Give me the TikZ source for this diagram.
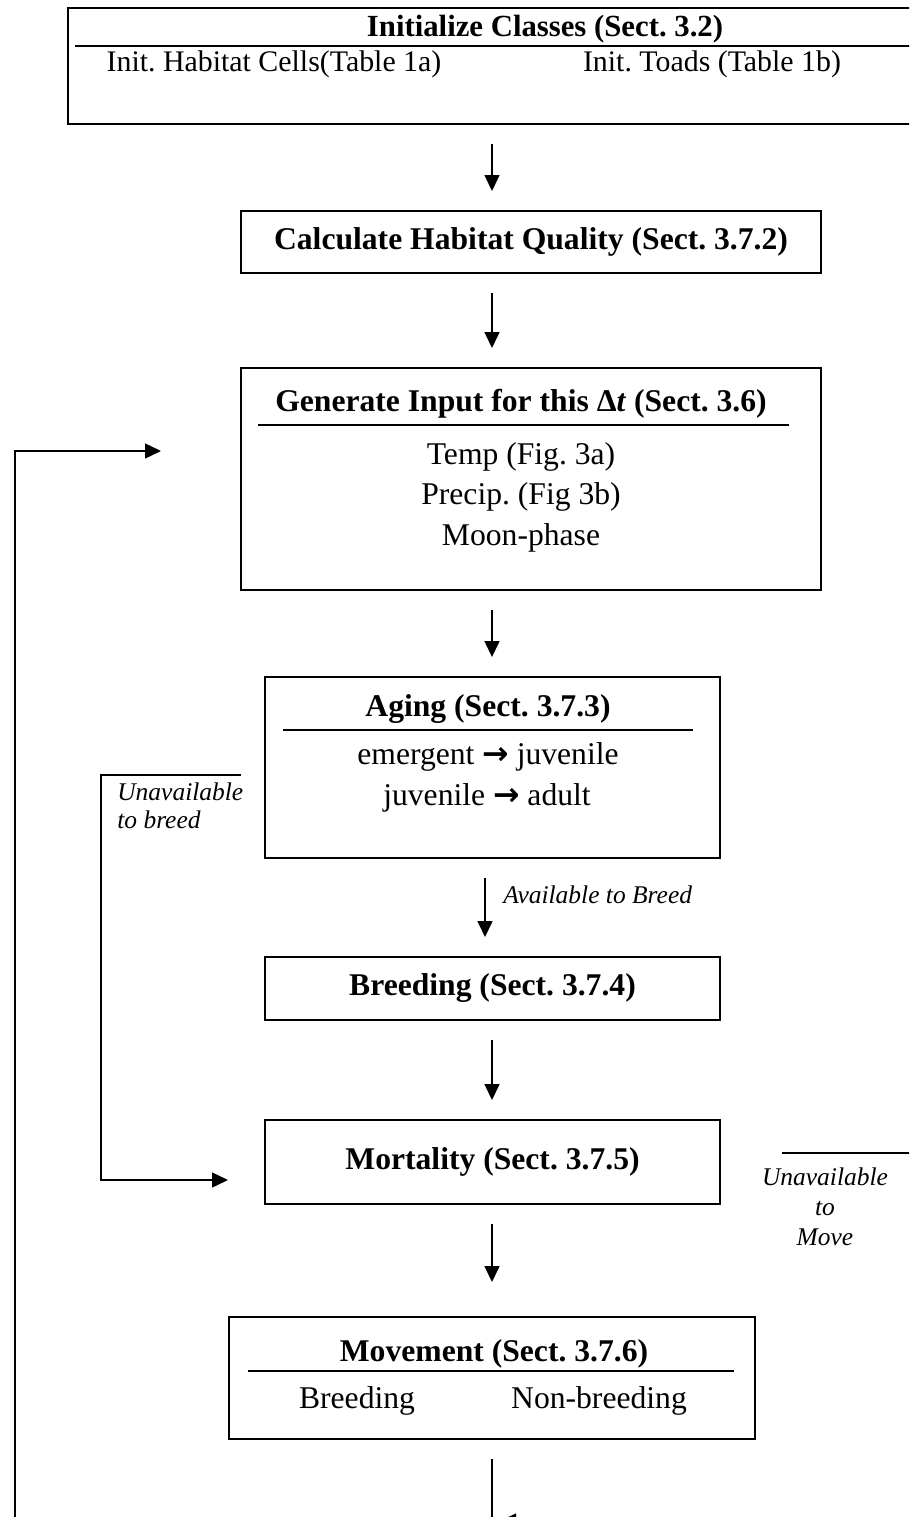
\documentclass[tikz,border=0pt]{standalone}
\usepackage{fontspec}
\setmainfont{Liberation Serif}
\newfontfamily\symfont{DejaVu Sans}
\usetikzlibrary{arrows.meta,fit}
\frenchspacing

\tikzset{
  box/.style={draw, line width=1.1pt, inner sep=0pt},
  flow/.style={-{Triangle[length=0.32cm,width=0.3cm]}, line width=0.8pt},
  wire/.style={line width=0.8pt},
  gap/.style={shorten <=0.38cm, shorten >=0.38cm},
  rule/.style={line width=1.2pt},
  head/.style={font=\fontsize{18}{21}\selectfont\bfseries, inner sep=0pt},
  body/.style={font=\fontsize{18}{21}\selectfont, inner sep=0pt},
  note/.style={font=\fontsize{14.5}{17}\selectfont\itshape, inner sep=0pt},
}
\newcommand{\go}{{\symfont\bfseries →}}

\begin{document}
\begin{tikzpicture}[x=0.02cm, y=-0.02cm]
\useasboundingbox (0,0) rectangle (909,1517);
\clip (0,0) rectangle (909,1517);

% boxes
\node[box, fit={(68,8) (960,124)}] (init) {};
\node[box, fit={(241,211) (821,273)}] (habq) {};
\node[box, fit={(241,368) (821,590)}] (gen) {};
\node[box, fit={(265,677) (720,858)}] (aging) {};
\node[box, fit={(265,957) (720,1020)}] (breed) {};
\node[box, fit={(265,1120) (720,1204)}] (mort) {};
\node[box, fit={(229,1317) (755,1439)}] (move) {};

% box contents
\node[head, font=\fontsize{17.5}{21}\selectfont\bfseries, anchor=base] (initT) at (545,37) {Initialize Classes (Sect. 3.2)};
\draw[rule] (75,46) -- (960,46);
\node[body, font=\fontsize{17}{21}\selectfont, anchor=base] (initA) at (274,72) {Init. Habitat Cells(Table 1a)};
\node[body, font=\fontsize{17}{21}\selectfont, anchor=base] (initB) at (712,72) {Init. Toads (Table 1b)};

\node[head] (habqT) at (habq) {Calculate Habitat Quality (Sect. 3.7.2)};

\node[head, anchor=base] (genT) at (521,411) {Generate Input for this Δ\textit{t} (Sect. 3.6)};
\draw[rule] (258,425) -- (789,425);
\node[body, anchor=base] (genA) at (521,464) {Temp (Fig. 3a)};
\node[body, anchor=base] (genB) at (521,504) {Precip. (Fig 3b)};
\node[body, anchor=base] (genC) at (521,545) {Moon-phase};

\node[head, anchor=base] (agingT) at (488,716) {Aging (Sect. 3.7.3)};
\draw[rule] (283,730) -- (693,730);
\node[body, anchor=base] (agingA) at (488,764) {emergent \go{} juvenile};
\node[body, anchor=base] (agingB) at (487,805) {juvenile \go{} adult};

\node[head] (breedT) at (breed) {Breeding (Sect. 3.7.4)};
\node[head] (mortT) at (mort) {Mortality (Sect. 3.7.5)};

\node[head, anchor=base] (moveT) at (494,1361) {Movement (Sect. 3.7.6)};
\draw[rule] (248,1371) -- (734,1371);
\node[body, anchor=base] (moveA) at (357,1408) {Breeding};
\node[body, anchor=base] (moveB) at (599,1408) {Non-breeding};

% main flow
\coordinate (axis) at (492,0);
\coordinate (axisB) at (485,0);
\draw[flow, gap] (init.south -| axis) -- (habq.north -| axis);
\draw[flow, gap] (habq.south -| axis) -- (gen.north -| axis);
\draw[flow, gap] (gen.south -| axis) -- (aging.north -| axis);
\draw[flow, gap] (aging.south -| axisB) -- (breed.north -| axisB);
\draw[flow, gap] (breed.south -| axis) -- (mort.north -| axis);
\draw[flow, gap, shorten >=0.68cm] (mort.south -| axis) -- (move.north -| axis);
\node[note, anchor=base west] (goL) at (503,903) {Available to Breed};

% loop back
\coordinate (exit) at (492,1530);
\draw[wire, shorten <=0.38cm] (move.south -| axis) -- (exit);
\coordinate (backR) at (640,1521);
\coordinate (back) at (500,1521);
\draw[flow] (backR) -- (back);
\coordinate (loopS) at (15,1530);
\coordinate (loopE) at (161,451);
\draw[flow] (loopS) |- (loopE);

% skip breeding
\coordinate (skipS) at (241,775);
\coordinate (skipE) at (228,1180);
\draw[flow] (skipS) -- (101,775) |- (skipE);
\node[note, anchor=base west] (skipL1) at (117,800) {Unavailable};
\node[note, anchor=base west] (skipL2) at (117,828) {to breed};

% skip movement
\coordinate (stayS) at (782,1153);
\coordinate (stayE) at (915,1153);
\draw[wire] (stayS) -- (stayE);
\node[note, anchor=base] (stayL1) at (825,1185) {Unavailable};
\node[note, anchor=base] (stayL2) at (825,1215) {to};
\node[note, anchor=base] (stayL3) at (825,1245) {Move};
\end{tikzpicture}
\end{document}
